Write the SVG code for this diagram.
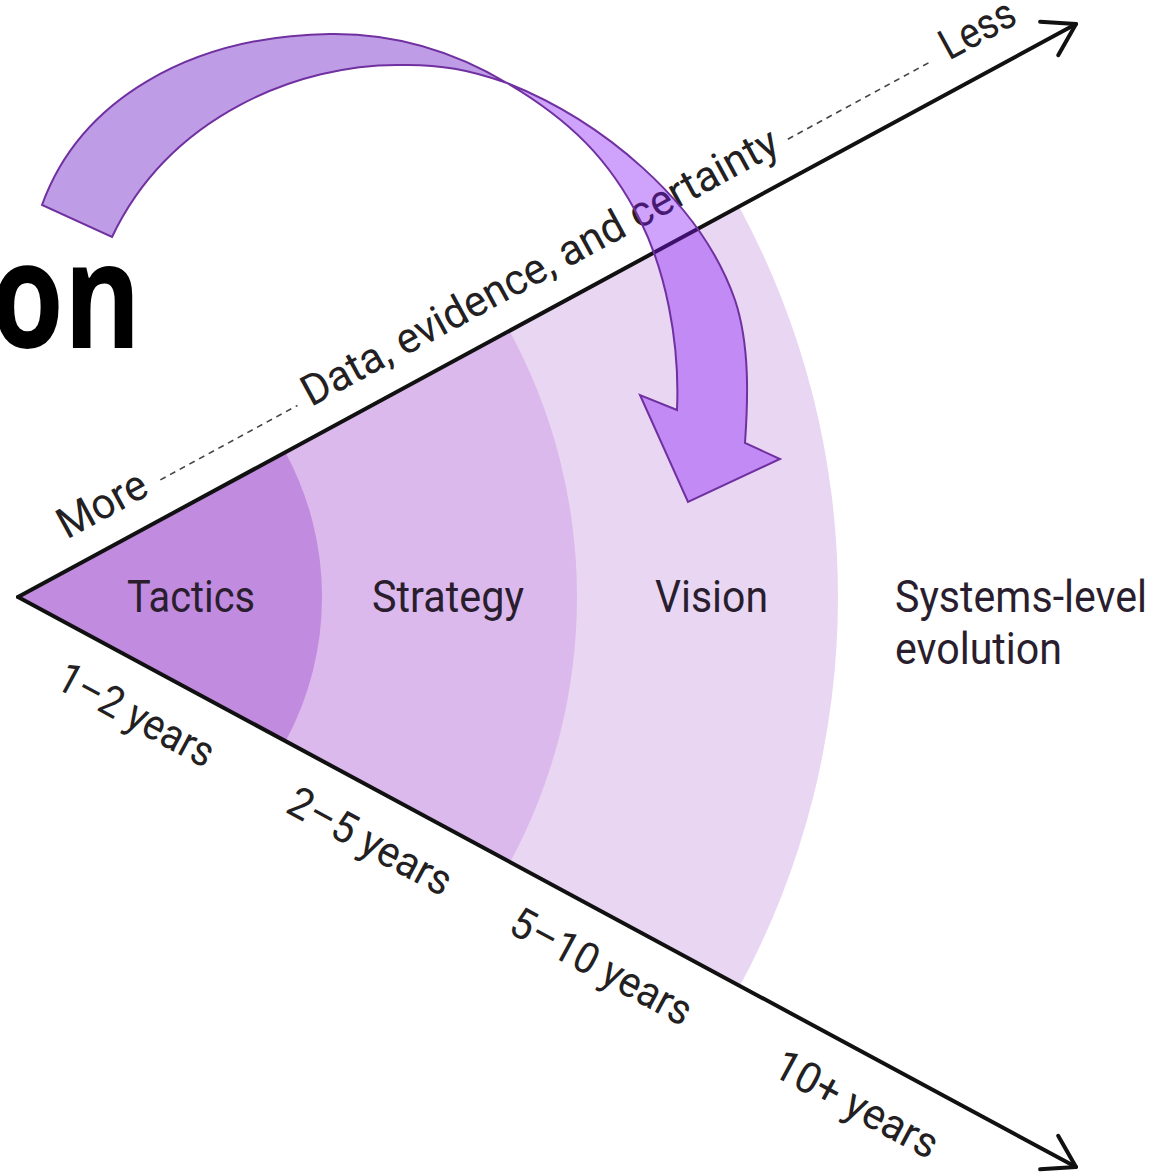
<svg xmlns="http://www.w3.org/2000/svg" width="1157" height="1174" viewBox="0 0 1157 1174">
  <defs>
    <style>
      .lbl { font-family: Roboto, "Liberation Sans", Arial, sans-serif; font-size: 43px; fill: #231f22; }
      .band { font-family: Roboto, "Liberation Sans", Arial, sans-serif; font-size: 44px; fill: #2a1e2e; }
      .axis { fill: none; stroke: #111; stroke-width: 4; stroke-linecap: round; }
      .dash { fill: none; stroke: #444; stroke-width: 1.6; stroke-dasharray: 6 5; }
      .ribbon { stroke: #7030a0; stroke-width: 2; stroke-linejoin: miter; }
    </style>
    <marker id="chev" viewBox="-40 -25 50 50" markerWidth="50" markerHeight="50" refX="0" refY="0" markerUnits="userSpaceOnUse" orient="auto">
      <path d="M -30.5 -19 L 0 0 L -30.5 19" fill="none" stroke="#111" stroke-width="4" stroke-linecap="round" stroke-linejoin="round"/>
    </marker>
  </defs>
  <rect width="1157" height="1174" fill="#ffffff"/>

  <g id="title-fragment">
    <text transform="translate(141,348) scale(0.8,1)" text-anchor="end" font-family="'Open Sans', 'Noto Sans', sans-serif" font-weight="700" font-size="147" fill="#000">on</text>
  </g>

  <g id="band-vision">
    <path d="M18,597 L738.6,205.7 A820,820 0 0 1 739.3,987 Z" fill="#e9d6f3"/>
  </g>
  <g id="band-strategy">
    <path d="M18,597 L509.2,330.2 A559,559 0 0 1 509.7,862.9 Z" fill="#dbb9ed"/>
  </g>
  <g id="band-tactics">
    <path d="M18,597 L285.2,451.9 A304,304 0 0 1 285.4,741.6 Z" fill="#c18bdf"/>
  </g>

  <g id="connectors">
    <line class="axis" x1="18" y1="597" x2="1076" y2="24" marker-end="url(#chev)"/>
    <line class="axis" x1="18" y1="597" x2="1076" y2="1167" marker-end="url(#chev)"/>
    <g transform="translate(18,597) rotate(-28.5)">
      <line class="dash" x1="181" y1="-35" x2="337" y2="-35"/>
      <line class="dash" x1="895" y1="-35" x2="1060" y2="-35"/>
    </g>
  </g>

  <g id="labels-upper" transform="translate(18,597) rotate(-28.5)">
    <text class="lbl" x="70" y="-27" textLength="96" lengthAdjust="spacingAndGlyphs">More</text>
    <text class="lbl" x="348" y="-27" textLength="536" lengthAdjust="spacingAndGlyphs">Data, evidence, and certainty</text>
    <text class="lbl" x="1074" y="-27" textLength="80" lengthAdjust="spacingAndGlyphs">Less</text>
  </g>

  <g id="labels-lower" transform="translate(18,597) rotate(28.4)">
    <text class="lbl" x="74" y="62" textLength="172" lengthAdjust="spacingAndGlyphs">1–2 years</text>
    <text class="lbl" x="336" y="62" textLength="180" lengthAdjust="spacingAndGlyphs">2–5 years</text>
    <text class="lbl" x="589" y="62" textLength="200" lengthAdjust="spacingAndGlyphs">5–10 years</text>
    <text class="lbl" x="889" y="62" textLength="180" lengthAdjust="spacingAndGlyphs">10+ years</text>
  </g>

  <g id="node-tactics">
    <text class="band" x="127" y="612" textLength="128" lengthAdjust="spacingAndGlyphs">Tactics</text>
  </g>
  <g id="node-strategy">
    <text class="band" x="372" y="612" textLength="152" lengthAdjust="spacingAndGlyphs">Strategy</text>
  </g>
  <g id="node-vision">
    <text class="band" x="655" y="612" textLength="113" lengthAdjust="spacingAndGlyphs">Vision</text>
  </g>
  <g id="node-systems">
    <text class="band" x="895" y="612" textLength="252" lengthAdjust="spacingAndGlyphs">Systems-level</text>
    <text class="band" x="895" y="664" textLength="167" lengthAdjust="spacingAndGlyphs">evolution</text>
  </g>

  <g id="curved-arrow">
    <path class="ribbon" fill="#bf9de6" d="M42,205 C80,100 190,36 330,34 C400,33 460,55 507,83 C470,70 440,64 400,65 C300,64 170,115 112,237 Z"/>
    <path class="ribbon" fill="rgba(132,19,245,0.39)" d="M507,83 C600,120 700,200 735,300 C750,345 748,400 745,443 L780,459 L688,502 L640,395 L677,410 C680,340 665,270 640,220 C610,160 570,120 507,83 Z"/>
  </g>
</svg>
